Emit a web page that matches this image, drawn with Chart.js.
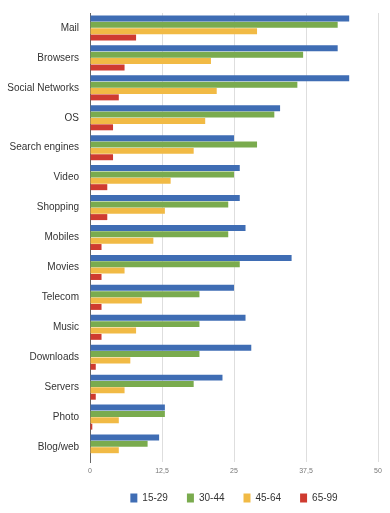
<!DOCTYPE html>
<html>
<head>
<meta charset="utf-8">
<script src="https://cdn.jsdelivr.net/npm/chart.js@4/dist/chart.umd.min.js"></script>
<style>
  html, body { margin: 0; padding: 0; background: #fff; }
  #wrap { width: 390px; height: 513px; }
</style>
</head>
<body>
<div id="wrap"><canvas id="usageChart"></canvas></div>
<script>
// Categories, top to bottom
const categories = [
  "Mail", "Browsers", "Social Networks", "OS", "Search engines", "Video",
  "Shopping", "Mobiles", "Movies", "Telecom", "Music", "Downloads",
  "Servers", "Photo", "Blog/web"
];

// Values per age group
const age15to29 = [45, 43, 45, 33, 25, 26, 26, 27, 35, 25, 27, 28, 23, 13, 12];
const age30to44 = [43, 37, 36, 32, 29, 25, 24, 24, 26, 19, 19, 19, 18, 13, 10];
const age45to64 = [29, 21, 22, 20, 18, 14, 13, 11, 6, 9, 8, 7, 6, 5, 5];
const age65to99 = [8, 6, 5, 4, 4, 3, 3, 2, 2, 2, 2, 1, 1, 0.4, 0];

const seriesLabels = ["15-29", "30-44", "45-64", "65-99"];
const xTickLabels = ["0", "12,5", "25", "37,5", "50"];

const colors = ["#3f6db4", "#7aab4e", "#f1ba45", "#cf3b30"];

const seriesData = [age15to29, age30to44, age45to64, age65to99];

// Center the legend under the plot area instead of the whole canvas
const legendUnderPlot = {
  id: "legendUnderPlot",
  afterLayout(chart) {
    chart.legend.left = chart.chartArea.left;
    chart.legend.right = chart.chartArea.right;
  },
};

const chart = new Chart(document.getElementById("usageChart"), {
  type: "bar",
  data: {
    labels: categories,
    datasets: seriesData.map((values, i) => ({
      label: seriesLabels[i],
      data: values,
      backgroundColor: colors[i],
      borderWidth: 0,
      categoryPercentage: 0.85,
      barPercentage: 0.94,
    })),
  },
  options: {
    indexAxis: "y",
    responsive: true,
    maintainAspectRatio: false,
    animation: false,
    layout: {
      padding: { top: 13, right: 12, bottom: 0, left: 0 },
    },
    plugins: {
      tooltip: { enabled: false },
      legend: {
        position: "bottom",
        labels: {
          boxWidth: 7,
          boxHeight: 9,
          padding: 19,
          color: "#333",
          font: { family: "Liberation Sans", size: 10 },
        },
      },
    },
    scales: {
      x: {
        min: 0,
        max: 50,
        ticks: {
          stepSize: 12.5,
          color: "#777",
          padding: 5,
          font: { family: "Liberation Sans", size: 7 },
          callback: (value, index) => xTickLabels[index],
        },
        grid: { color: "#dedede", drawTicks: false },
        border: { display: false },
        afterFit: (scale) => { scale.height = 12; },
      },
      y: {
        ticks: {
          color: "#333",
          padding: 11,
          font: { family: "Liberation Sans", size: 10 },
        },
        grid: { display: false, drawTicks: false },
        border: { display: true, color: "#666", width: 1 },
        afterFit: (scale) => {
          scale.width = 90;
          scale.paddingTop = 0;
          scale.paddingBottom = 0;
        },
      },
    },
  },
  plugins: [legendUnderPlot],
});
</script>
</body>
</html>
